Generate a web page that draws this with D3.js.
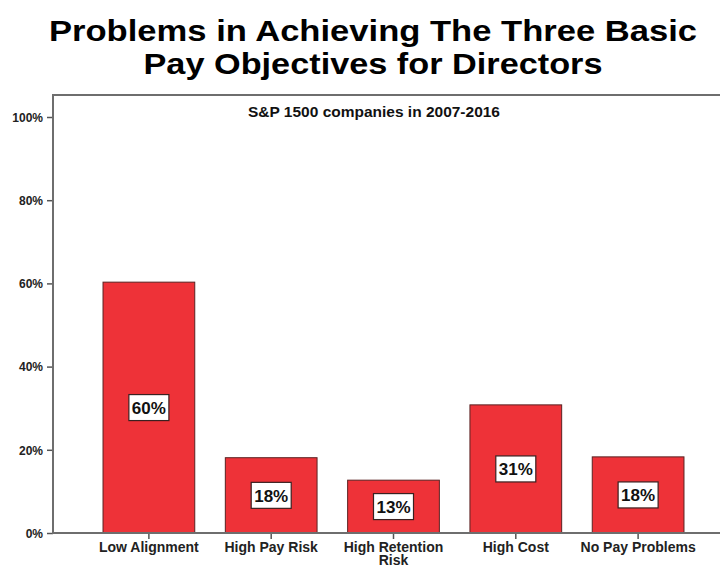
<!DOCTYPE html>
<html>
<head>
<meta charset="utf-8">
<script src="https://cdn.jsdelivr.net/npm/d3@7/dist/d3.min.js"></script>
<style>
  html, body { margin: 0; padding: 0; background: #fff; }
  svg { display: block; font-family: "Liberation Sans", Arial, sans-serif; }
</style>
</head>
<body>
<svg id="chart" width="720" height="566"></svg>
<script>
const titleLines = ["Problems in Achieving The Three Basic", "Pay Objectives for Directors"];
const subtitle = "S&P 1500 companies in 2007-2016";
const categories = ["Low Alignment", "High Pay Risk", "High Retention Risk", "High Cost", "No Pay Problems"];
const categoryLines = [["Low Alignment"], ["High Pay Risk"], ["High Retention", "Risk"], ["High Cost"], ["No Pay Problems"]];
const values = [60.3, 18.1, 12.7, 30.8, 18.3];
const valueLabels = ["60%", "18%", "13%", "31%", "18%"];
const yTicks = [0, 20, 40, 60, 80, 100];
const yMax = 105.3;

const svg = d3.select("#chart");
const left = 53, right = 720, bottom = 533;

const x = d3.scaleBand().domain(categories).range([left, 734]).paddingInner(0.25).paddingOuter(0.409);
const y = d3.scaleLinear().domain([0, 100]).range([bottom, 117]);

// Title (horizontally widened to match the reference proportions)
const titleWidths = [648, 459];
titleLines.forEach((t, i) => svg.append("text")
  .attr("x", 373).attr("y", 41 + i * 33).attr("text-anchor", "middle")
  .attr("font-weight", "bold").attr("font-size", 29.5).attr("fill", "#000")
  .attr("textLength", titleWidths[i]).attr("lengthAdjust", "spacingAndGlyphs")
  .text(t));

// Frame: top line
svg.append("line").attr("x1", left).attr("x2", right).attr("y1", y(yMax)).attr("y2", y(yMax))
  .attr("stroke", "#6e6e6e").attr("stroke-width", 2);

// Subtitle
svg.append("text").attr("x", 374).attr("y", 117).attr("text-anchor", "middle")
  .attr("font-weight", "bold").attr("font-size", 15).attr("fill", "#111")
  .attr("textLength", 252).attr("lengthAdjust", "spacingAndGlyphs").text(subtitle);

// Bars
svg.selectAll("rect.bar").data(values).enter().append("rect").attr("class", "bar")
  .attr("x", (d, i) => x(categories[i]))
  .attr("width", x.bandwidth())
  .attr("y", d => y(d))
  .attr("height", d => y(0) - y(d))
  .attr("fill", "#ee3238").attr("stroke", "#5a2222").attr("stroke-width", 1);

// Value labels
const lab = svg.selectAll("g.lab").data(values).enter().append("g").attr("class", "lab")
  .attr("transform", (d, i) => `translate(${x(categories[i]) + x.bandwidth() / 2},${(y(d) + y(0)) / 2})`);
lab.append("rect").attr("x", -20).attr("y", -13).attr("width", 40).attr("height", 26)
  .attr("fill", "#fff").attr("stroke", "#3a2020").attr("stroke-width", 1.2);
lab.append("text").attr("text-anchor", "middle").attr("y", 6.5)
  .attr("font-weight", "bold").attr("font-size", 17).attr("fill", "#111")
  .text((d, i) => valueLabels[i]);

// Y axis
const yAxis = d3.axisLeft(y).tickValues(yTicks).tickFormat(d => d + "%").tickSize(6).tickPadding(4);
const gy = svg.append("g").attr("transform", `translate(${left},0)`).call(yAxis);
gy.select(".domain").remove();
gy.selectAll(".tick line").attr("stroke", "#555").attr("stroke-width", 1.5);
gy.selectAll(".tick text").attr("font-family", "Liberation Sans, Arial, sans-serif")
  .attr("font-weight", "bold").attr("font-size", 12).attr("fill", "#222").attr("dy", "0.35em");
svg.append("line").attr("x1", left).attr("x2", left).attr("y1", y(yMax) - 1).attr("y2", bottom)
  .attr("stroke", "#6e6e6e").attr("stroke-width", 2);

// X axis
const xAxis = d3.axisBottom(x).tickSize(6).tickFormat("");
const gx = svg.append("g").attr("transform", `translate(0,${bottom})`).call(xAxis);
gx.select(".domain").remove();
gx.selectAll(".tick line").attr("stroke", "#555").attr("stroke-width", 1.5);
svg.append("line").attr("x1", left - 1).attr("x2", right).attr("y1", bottom).attr("y2", bottom)
  .attr("stroke", "#6e6e6e").attr("stroke-width", 2);

// Category labels
categories.forEach((c, i) => {
  const t = svg.append("text").attr("text-anchor", "middle").attr("font-weight", "bold")
    .attr("font-size", 14).attr("fill", "#222");
  categoryLines[i].forEach((ln, j) => t.append("tspan")
    .attr("x", x(c) + x.bandwidth() / 2).attr("y", 552 + j * 13).text(ln));
});
</script>
</body>
</html>
